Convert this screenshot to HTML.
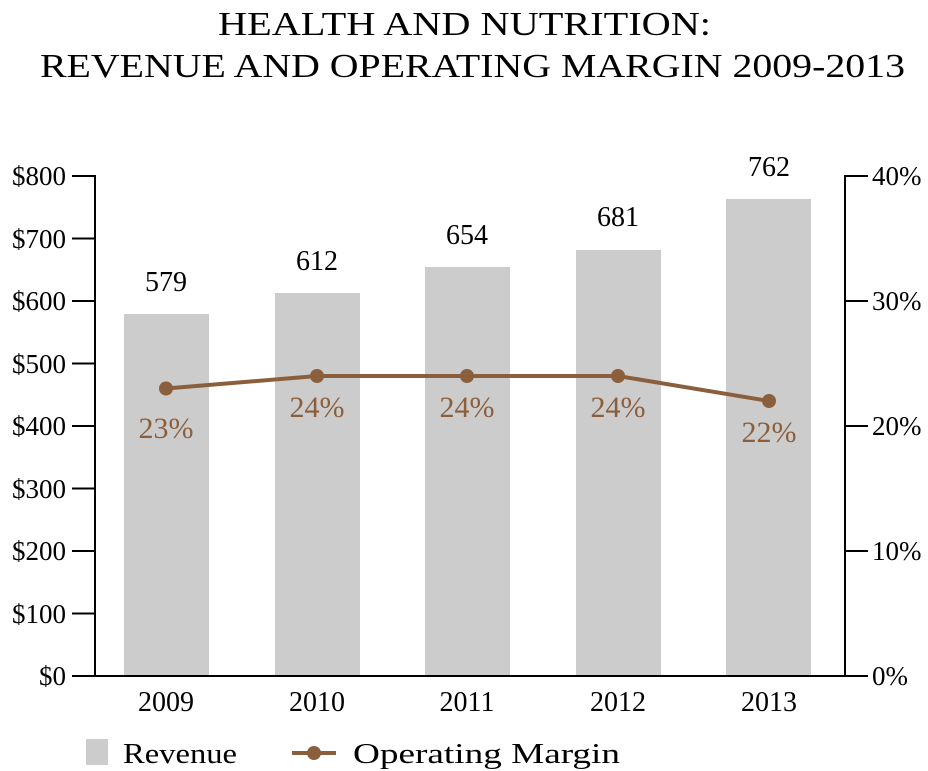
<!DOCTYPE html>
<html><head><meta charset="utf-8"><style>
body{margin:0;background:#fff}
svg{display:block}
text{font-family:"Liberation Serif","DejaVu Serif",serif}
</style></head><body>
<svg width="928" height="771" viewBox="0 0 928 771" xmlns="http://www.w3.org/2000/svg" font-family="Liberation Serif, serif">
<g fill="#000">
<text x="218" y="35" font-size="34" textLength="493" lengthAdjust="spacingAndGlyphs">HEALTH AND NUTRITION:</text>
<text x="40" y="77" font-size="34" textLength="865" lengthAdjust="spacingAndGlyphs">REVENUE AND OPERATING MARGIN 2009-2013</text>
</g>
<g fill="#cccccc">
<rect x="124" y="314" width="85" height="362"/>
<rect x="275" y="293" width="85" height="383"/>
<rect x="425" y="267" width="85" height="409"/>
<rect x="576" y="250" width="85" height="426"/>
<rect x="726" y="199" width="85" height="477"/>
</g>
<g stroke="#000" stroke-width="2">
<line x1="95" y1="175" x2="95" y2="677"/>
<line x1="845" y1="175" x2="845" y2="677"/>
<line x1="72" y1="676" x2="868" y2="676"/>
<line x1="72" y1="176" x2="95" y2="176"/><line x1="72" y1="238.5" x2="95" y2="238.5"/>
<line x1="72" y1="301" x2="95" y2="301"/><line x1="72" y1="363.5" x2="95" y2="363.5"/>
<line x1="72" y1="426" x2="95" y2="426"/><line x1="72" y1="488.5" x2="95" y2="488.5"/>
<line x1="72" y1="551" x2="95" y2="551"/><line x1="72" y1="613.5" x2="95" y2="613.5"/>
<line x1="845" y1="176" x2="868" y2="176"/><line x1="845" y1="301" x2="868" y2="301"/>
<line x1="845" y1="426" x2="868" y2="426"/><line x1="845" y1="551" x2="868" y2="551"/>
</g>
<g font-size="27" fill="#000" text-anchor="end">
<text x="66" y="185">$800</text><text x="66" y="248">$700</text>
<text x="66" y="310">$600</text><text x="66" y="373">$500</text>
<text x="66" y="435">$400</text><text x="66" y="498">$300</text>
<text x="66" y="560">$200</text><text x="66" y="623">$100</text>
<text x="66" y="685">$0</text>
</g>
<g font-size="27" fill="#000">
<text x="872" y="185">40%</text><text x="872" y="310">30%</text>
<text x="872" y="435">20%</text><text x="872" y="560">10%</text>
<text x="872" y="685">0%</text>
</g>
<g font-size="28" fill="#000" text-anchor="middle">
<text x="166" y="711">2009</text><text x="317" y="711">2010</text>
<text x="467" y="711">2011</text><text x="618" y="711">2012</text>
<text x="769" y="711">2013</text>
<text x="166" y="291">579</text><text x="317" y="270">612</text>
<text x="467" y="244">654</text><text x="618" y="226">681</text>
<text x="769" y="176">762</text>
</g>
<polyline points="166,388.5 317,376 467,376 618,376 769,401" fill="none" stroke="#8b5e3c" stroke-width="4"/>
<g fill="#8b5e3c">
<circle cx="166" cy="388.5" r="7"/><circle cx="317" cy="376" r="7"/>
<circle cx="467" cy="376" r="7"/><circle cx="618" cy="376" r="7"/>
<circle cx="769" cy="401" r="7"/>
</g>
<g font-size="30" fill="#8b5e3c" text-anchor="middle">
<text x="166" y="438">23%</text><text x="317" y="417">24%</text>
<text x="467" y="417">24%</text><text x="618" y="417">24%</text>
<text x="769" y="442">22%</text>
</g>
<rect x="86" y="739" width="22" height="26" fill="#cccccc"/>
<g fill="#000" font-size="29">
<text x="123" y="763" textLength="114" lengthAdjust="spacingAndGlyphs">Revenue</text>
<text x="353" y="763" textLength="267" lengthAdjust="spacingAndGlyphs">Operating Margin</text>
</g>
<line x1="292" y1="753" x2="336" y2="753" stroke="#8b5e3c" stroke-width="4"/>
<circle cx="314" cy="753" r="7" fill="#8b5e3c"/>
</svg>
</body></html>
